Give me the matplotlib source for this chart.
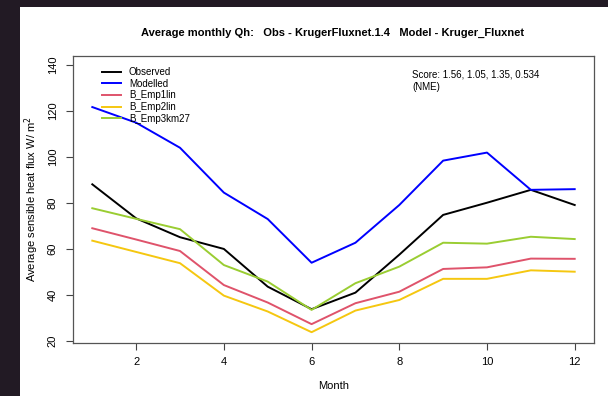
import matplotlib
matplotlib.use("Agg")
import matplotlib.pyplot as plt
from matplotlib.patches import Rectangle

plt.rcParams['font.family'] = ['Liberation Sans', 'DejaVu Sans']

# monthly average sensible heat flux (W/m2)
months = list(range(1, 13))
observed = [88.1, 73.3, 65.1, 60.0, 43.6, 33.8, 41.0, 57.5, 74.8, 80.1, 85.7, 79.1]
modelled = [121.7, 114.9, 104.0, 84.5, 73.0, 54.0, 62.7, 79.1, 98.4, 101.9, 85.7, 86.0]
emp1lin = [69.0, 64.1, 59.1, 44.3, 36.7, 27.3, 36.4, 41.4, 51.3, 52.0, 55.8, 55.7]
emp2lin = [63.6, 58.7, 53.8, 39.7, 32.8, 23.8, 33.2, 37.8, 47.0, 47.0, 50.7, 50.1]
emp3km27 = [77.7, 73.1, 68.6, 53.0, 45.8, 33.5, 45.1, 52.3, 62.7, 62.3, 65.3, 64.3]

series = [
    ("Observed", observed, "black"),
    ("Modelled", modelled, "#0000FF"),
    ("B_Emp1lin", emp1lin, "#DF536B"),
    ("B_Emp2lin", emp2lin, "#F5C710"),
    ("B_Emp3km27", emp3km27, "#9ACD32"),
]
scores = ["1.56", "1.05", "1.35", "0.534"]

W, H = 608, 396
fig = plt.figure(figsize=(W / 100, H / 100), dpi=100, facecolor="white")
# dark strips along the left and top edges
dark = "#221a24"
fig.patches.append(Rectangle((0, 0), 20 / W, 1, transform=fig.transFigure,
                             facecolor=dark, edgecolor="none"))
fig.patches.append(Rectangle((0, 1 - 7 / H), 1, 7 / H, transform=fig.transFigure,
                             facecolor=dark, edgecolor="none"))

ax = fig.add_axes([73 / W, 1 - 343 / H, (594 - 73) / W, (343 - 56) / H])
for name, vals, col in series:
    ax.plot(months, vals, color=col, lw=1.4, label=name)

ax.set_xlim(0.56, 12.44)
ax.set_ylim(19.1, 143.9)
ax.set_xticks([2, 4, 6, 8, 10, 12])
ax.set_yticks([20, 40, 60, 80, 100, 120, 140])
ax.tick_params(direction="out", length=5, width=0.8, color="#444444",
               labelsize=8, pad=5)
ax.tick_params(axis="y", pad=6)
plt.setp(ax.get_yticklabels(), rotation=90, va="center")
for sp in ax.spines.values():
    sp.set_color("#555555")
    sp.set_linewidth(0.9)

ax.set_xlabel("Month", fontsize=8, labelpad=10)
ax.set_ylabel("Average sensible heat flux W/ m$^2$", fontsize=8)
ax.yaxis.set_label_coords(-0.061, 0.5)

fig.text(333 / W, 1 - 33 / H,
         "Average monthly Qh:   Obs - KrugerFluxnet.1.4   Model - Kruger_Fluxnet",
         ha="center", va="center", fontsize=8, fontweight="bold")

ax.legend(loc="upper left", frameon=False, fontsize=7, handlelength=2.0,
          handletextpad=0.8, labelspacing=0.17, borderaxespad=0.3,
          bbox_to_anchor=(0.042, 0.985))

ax.text(0.651, 0.952, "Score: " + ", ".join(scores) + "\n(NME)",
        transform=ax.transAxes, fontsize=7, va="top", ha="left",
        linespacing=1.25)

fig.savefig("out.png", dpi=100)
